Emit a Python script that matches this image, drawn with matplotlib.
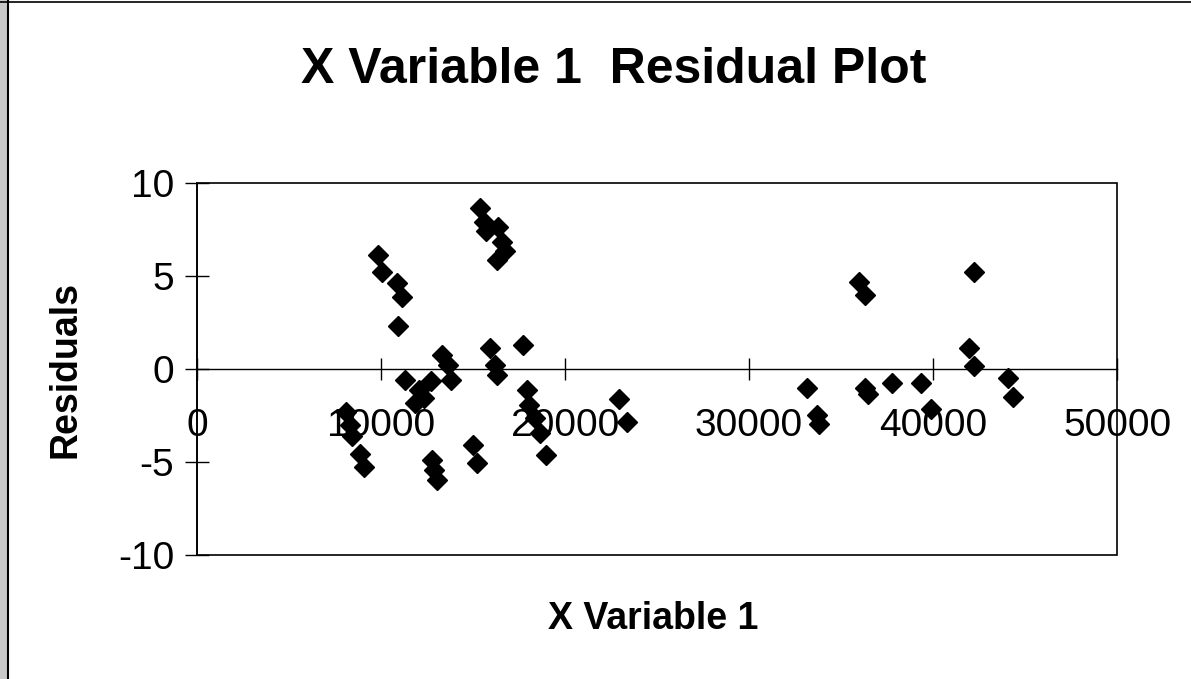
import matplotlib
matplotlib.use("Agg")
import matplotlib.pyplot as plt
from matplotlib.patches import Rectangle
from matplotlib.lines import Line2D

# datos
x_var = [15360, 15580, 15730, 16370, 16550, 16730, 16280,
         9820, 10070, 10860, 11140, 10950,
         15910, 17740, 13340, 13620, 13800, 16180, 16280,
         11320, 12700, 12090, 12330, 11870,
         17930, 18070, 18380, 18620, 18970,
         22930, 23370,
         8120, 8300, 8450, 8850, 9100,
         12790, 12880, 13060, 14990, 15230,
         33170, 33720, 33800, 35990, 36300, 36320, 36480,
         37760, 39320, 39870, 41950, 42220, 42240, 44100, 44370]
residuals = [8.64, 7.87, 7.38, 7.62, 6.79, 6.31, 5.82,
             6.13, 5.18, 4.61, 3.85, 2.28,
             1.11, 1.25, 0.75, 0.22, -0.63, 0.22, -0.32,
             -0.63, -0.68, -1.13, -1.58, -1.85,
             -1.13, -1.94, -2.65, -3.46, -4.62,
             -1.60, -2.87,
             -2.3, -3.0, -3.6, -4.6, -5.3,
             -4.89, -5.43, -5.97, -4.09, -5.07,
             -1.02, -2.49, -2.99, 4.64, 3.96, -1.02, -1.33,
             -0.75, -0.75, -2.17, 1.09, 5.18, 0.16, -0.48, -1.51]
x_ticks = [0, 10000, 20000, 30000, 40000, 50000]
y_ticks = [-10, -5, 0, 5, 10]

plt.rcParams['font.family'] = ['Liberation Sans', 'DejaVu Sans']

fig = plt.figure(figsize=(11.91, 6.79), dpi=100)
ax = fig.add_axes([0.1654, 0.1826, 0.9379 - 0.1654, 0.7312 - 0.1826])

ax.plot(x_var, residuals, linestyle='none', marker='D', markersize=10,
        color='black', markeredgewidth=1)

ax.set_xlim(0, 50000)
ax.set_ylim(-10, 10)
ax.set_xticks(x_ticks)
ax.set_yticks(y_ticks)
ax.set_xticklabels([str(t) for t in x_ticks])
ax.set_yticklabels([str(t) for t in y_ticks])

# eje x cruzando en cero, como en Excel
ax.spines['bottom'].set_position(('data', 0))
ax.spines['bottom'].set_linewidth(1.0)
ax.spines['left'].set_linewidth(1.2)
ax.spines['top'].set_visible(False)
ax.spines['right'].set_visible(False)
ax.add_patch(Rectangle((0, 0), 1, 1, transform=ax.transAxes, fill=False,
                       lw=1.2, ec='black', clip_on=False, zorder=3))

ax.tick_params(axis='x', direction='inout', length=16, width=1,
               pad=20, labelsize=28)
ax.tick_params(axis='y', direction='inout', length=17, width=1,
               pad=8, labelsize=28)

fig.text(0.5155, 1 - 70 / 679, 'X Variable 1  Residual Plot', ha='center',
         va='center', fontsize=36, fontweight='bold')
fig.text(653 / 1191, 1 - 619 / 679, 'X Variable 1', ha='center',
         va='center', fontsize=27, fontweight='bold')
fig.text(66 / 1191, 1 - 370 / 679, 'Residuals', ha='center', va='center',
         rotation=90, fontsize=27, fontweight='bold')

# borde del escaneo
fig.patches.append(Rectangle((0, 0), 7 / 1191, 1, transform=fig.transFigure,
                             color='#c8c8c8', zorder=0))
fig.lines.append(Line2D([8 / 1191, 8 / 1191], [0, 1], transform=fig.transFigure,
                        color='black', lw=1.5))
fig.lines.append(Line2D([0, 1], [1 - 2 / 679, 1 - 2 / 679],
                        transform=fig.transFigure, color='black', lw=1.2))

fig.savefig('out.png', dpi=100)
